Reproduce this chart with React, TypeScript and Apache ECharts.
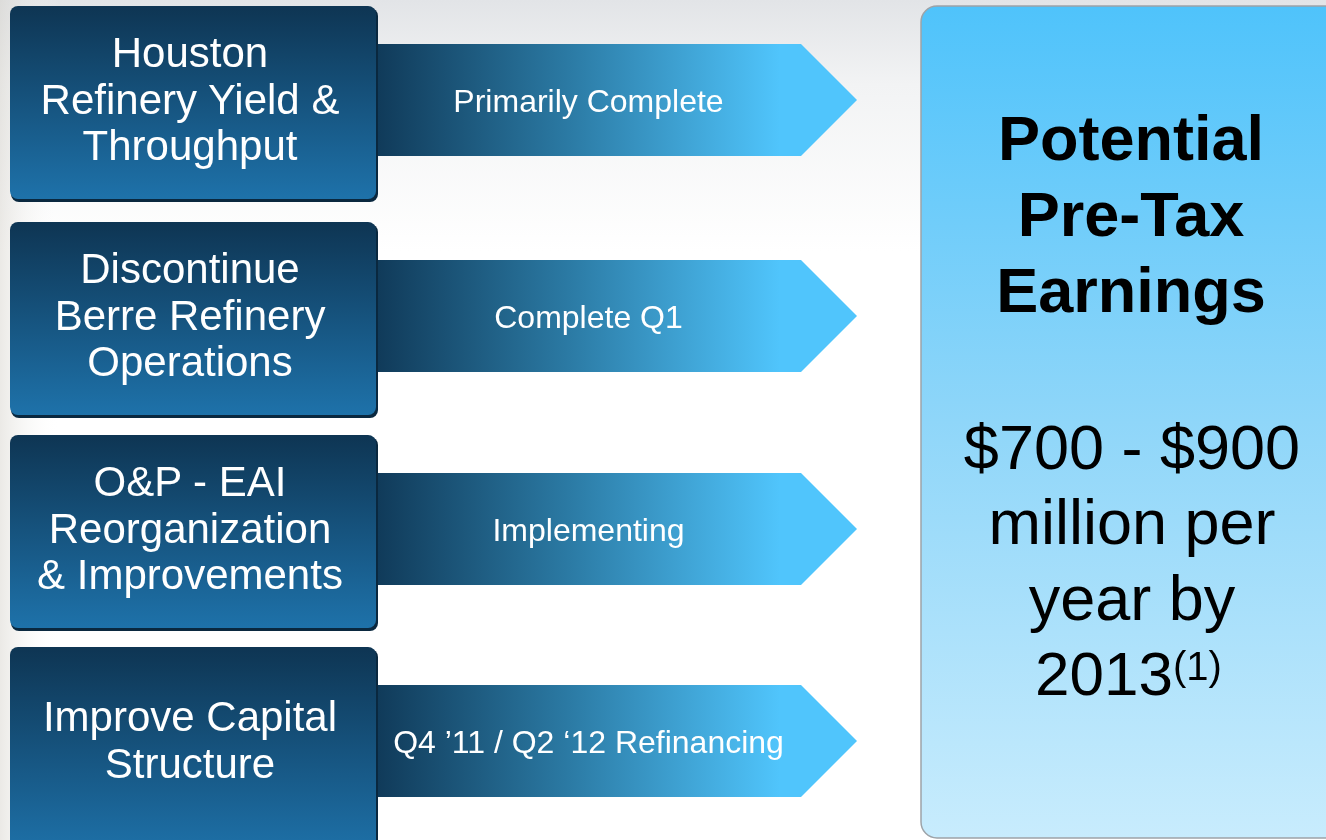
import React, { useEffect, useRef } from "react";
import * as echarts from "echarts";

// ---- content ----
const initiatives = [
  "Houston\nRefinery Yield &\nThroughput",
  "Discontinue\nBerre Refinery\nOperations",
  "O&P - EAI\nReorganization\n& Improvements",
  "Improve Capital\nStructure",
];
const statuses = [
  "Primarily Complete",
  "Complete Q1",
  "Implementing",
  "Q4 \u201911 / Q2 \u201812 Refinancing",
];
const panelTitle = ["Potential", "Pre-Tax", "Earnings"];
const panelValue = ["$700 - $900", "million per", "year by"];
const panelYear = "2013";
const panelNote = "(1)";

// ---- layout ----
const W = 1326;
const H = 840;
const FONT = "Liberation Sans, Arial, Helvetica, sans-serif";
const rowCenters = [100, 316, 529, 741];
const boxLeft = 10;
const boxWidth = 366;
const boxTextX = 190;
const arrowLeft = 376;
const arrowBodyEnd = 801;
const arrowTip = 857;
const arrowHalf = 56;
const panelX = 921;
const panelCx = 1131;
const titleYs = [138, 214, 290];
const valueYs = [447, 522, 598];
const yearY = 673;

export default function App() {
  const ref = useRef<HTMLDivElement>(null);

  useEffect(() => {
    if (!ref.current) return;
    const chart = echarts.init(ref.current, undefined, { renderer: "svg" });
    const els: any[] = [];

    // background
    els.push({
      type: "rect",
      shape: { x: 0, y: 0, width: W, height: H },
      style: {
        fill: new echarts.graphic.LinearGradient(0, 0, 0, 1, [
          { offset: 0, color: "#e2e4e7" },
          { offset: 0.1, color: "#f2f3f4" },
          { offset: 0.3, color: "#ffffff" },
          { offset: 1, color: "#ffffff" },
        ]),
      },
      silent: true,
    });
    els.push({
      type: "rect",
      shape: { x: 0, y: 0, width: 60, height: H },
      style: {
        fill: new echarts.graphic.LinearGradient(0, 0, 1, 0, [
          { offset: 0, color: "rgba(215,212,205,0.5)" },
          { offset: 1, color: "rgba(255,255,255,0)" },
        ]),
      },
      silent: true,
    });

    // arrows
    statuses.forEach((s, i) => {
      const c = rowCenters[i];
      els.push({
        type: "polygon",
        shape: {
          points: [
            [arrowLeft, c - arrowHalf],
            [arrowBodyEnd, c - arrowHalf],
            [arrowTip, c],
            [arrowBodyEnd, c + arrowHalf],
            [arrowLeft, c + arrowHalf],
          ],
        },
        style: {
          fill: new echarts.graphic.LinearGradient(0, 0, 1, 0, [
            { offset: 0, color: "#103a59" },
            { offset: 0.4, color: "#2b7aa4" },
            { offset: 0.84, color: "#50c5fc" },
            { offset: 1, color: "#50c5fc" },
          ]),
        },
      });
      els.push({
        type: "text",
        x: (arrowLeft + arrowBodyEnd) / 2,
        y: c + 1,
        style: {
          text: s,
          fill: "#ffffff",
          fontSize: 32,
          fontFamily: FONT,
          align: "center",
          verticalAlign: "middle",
          textAlign: "center",
          textVerticalAlign: "middle",
        },
      });
    });

    // boxes
    initiatives.forEach((t, i) => {
      const c = rowCenters[i];
      const top = c - 94;
      const h = i === 3 ? 210 : 194;
      els.push({
        type: "rect",
        shape: { x: boxLeft + 1, y: top + 2, width: boxWidth + 1, height: h, r: 8 },
        style: { fill: "#0a283f" },
      });
      els.push({
        type: "rect",
        shape: { x: boxLeft, y: top, width: boxWidth, height: h - 1, r: 8 },
        style: {
          fill: new echarts.graphic.LinearGradient(0, 0, 0, 1, [
            { offset: 0, color: "#0e3553" },
            { offset: 1, color: "#1e72aa" },
          ]),
        },
      });
      els.push({
        type: "text",
        x: boxTextX,
        y: c - 1,
        style: {
          text: t,
          fill: "#ffffff",
          fontSize: 42,
          lineHeight: 46.5,
          fontFamily: FONT,
          align: "center",
          verticalAlign: "middle",
          textAlign: "center",
          textVerticalAlign: "middle",
        },
      });
    });

    // right panel
    els.push({
      type: "rect",
      shape: { x: panelX, y: 6, width: 440, height: 832, r: 16 },
      style: {
        fill: new echarts.graphic.LinearGradient(0, 0, 0, 1, [
          { offset: 0, color: "#4fc3fb" },
          { offset: 0.5, color: "#8fd6f9" },
          { offset: 1, color: "#c8ecfd" },
        ]),
        stroke: "#9da3a8",
        lineWidth: 1.5,
      },
    });
    panelTitle.forEach((t, i) => {
      els.push({
        type: "text",
        x: panelCx,
        y: titleYs[i],
        style: {
          text: t,
          fill: "#000000",
          fontSize: 63,
          fontWeight: "bold",
          fontFamily: FONT,
          align: "center",
          verticalAlign: "middle",
          textAlign: "center",
          textVerticalAlign: "middle",
        },
      });
    });
    panelValue.forEach((t, i) => {
      els.push({
        type: "text",
        x: panelCx + 1,
        y: valueYs[i],
        style: {
          text: t,
          fill: "#000000",
          fontSize: 63,
          fontFamily: FONT,
          align: "center",
          verticalAlign: "middle",
          textAlign: "center",
          textVerticalAlign: "middle",
        },
      });
    });
    els.push({
      type: "text",
      x: 1173,
      y: yearY,
      style: {
        text: panelYear,
        fill: "#000000",
        fontSize: 62,
        fontFamily: FONT,
        align: "right",
        verticalAlign: "middle",
        textAlign: "right",
        textVerticalAlign: "middle",
      },
    });
    els.push({
      type: "text",
      x: 1173,
      y: 666,
      style: {
        text: panelNote,
        fill: "#000000",
        fontSize: 40,
        fontFamily: FONT,
        align: "left",
        verticalAlign: "middle",
        textAlign: "left",
        textVerticalAlign: "middle",
      },
    });

    chart.setOption({ animation: false, graphic: { elements: els } });
    return () => chart.dispose();
  }, []);

  return (
    <div
      ref={ref}
      style={{ position: "fixed", left: 0, top: 0, width: W, height: H }}
    />
  );
}
